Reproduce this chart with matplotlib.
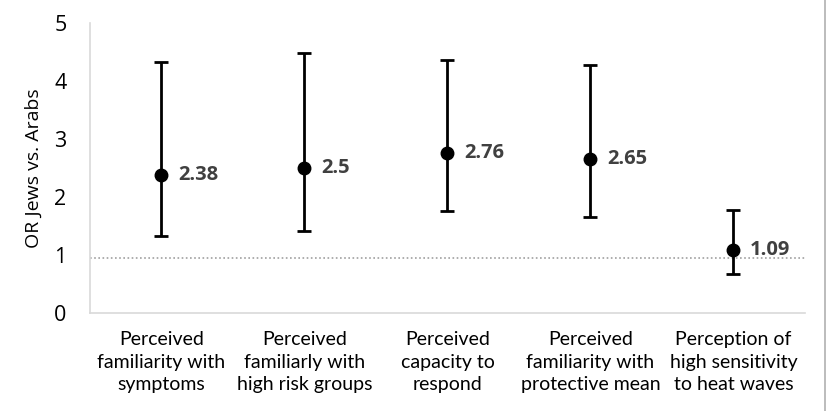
import matplotlib
matplotlib.use("Agg")
import matplotlib.pyplot as plt
from matplotlib.lines import Line2D
import numpy as np

categories = ["Perceived\nfamiliarity with\nsymptoms",
              "Perceived\nfamiliarly with\nhigh risk groups",
              "Perceived\ncapacity to\nrespond",
              "Perceived\nfamiliarity with\nprotective mean",
              "Perception of\nhigh sensitivity\nto heat waves"]
or_values = [2.38, 2.5, 2.76, 2.65, 1.09]
ci_lower = [1.33, 1.42, 1.76, 1.66, 0.67]
ci_upper = [4.33, 4.48, 4.36, 4.27, 1.78]
value_labels = ["2.38", "2.5", "2.76", "2.65", "1.09"]
ref_line = 0.95
yticks = [0, 1, 2, 3, 4, 5]

plt.rcParams['font.family'] = ['Open Sans', 'DejaVu Sans']

fig = plt.figure(figsize=(8.29, 4.11), dpi=100)
ax = fig.add_axes([90/829, 98/411, 715/829, 290/411])

x = np.arange(len(categories))
vals = np.array(or_values)
yerr = np.array([vals - np.array(ci_lower), np.array(ci_upper) - vals])
ax.axhline(ref_line, color='#a0a0a0', linestyle=(0, (1, 1.5)), linewidth=1.2, zorder=1)
ax.errorbar(x, vals, yerr=yerr, fmt='o', color='black', markersize=9,
            elinewidth=2, capsize=5, capthick=2, zorder=3)
for xi, v, lab in zip(x, vals, value_labels):
    ax.annotate(lab, (xi, v), xytext=(12, 0), textcoords='offset points',
                ha='left', va='center', fontsize=14.5, fontweight='bold', color='#404040')

ax.set_xlim(-0.5, len(categories) - 0.5)
ax.set_ylim(0, 5)
ax.set_yticks(yticks)
ax.set_yticklabels([str(t) for t in yticks], fontsize=15.5)
ax.set_xticks(x)
ax.set_xticklabels(categories, fontsize=14, linespacing=1.4, family=['Lato', 'DejaVu Sans'])
ax.tick_params(axis='both', length=0)
ax.tick_params(axis='y', pad=17)
ax.tick_params(axis='x', pad=13)
ax.set_ylabel("OR Jews vs. Arabs", fontsize=14, labelpad=8)
for s in ['top', 'right']:
    ax.spines[s].set_visible(False)
for s in ['left', 'bottom']:
    ax.spines[s].set_color('#d9d9d9')
    ax.spines[s].set_linewidth(1.2)

fig.add_artist(Line2D([825.5/829, 825.5/829], [0, 1], color='#b0b0b0', linewidth=1.2,
                      transform=fig.transFigure))

fig.savefig("out.png", dpi=100)
